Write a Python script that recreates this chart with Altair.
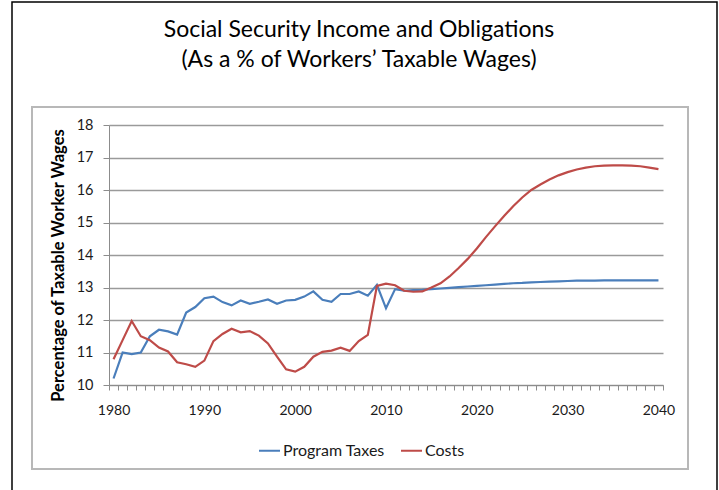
import altair as alt
import pandas as pd

years = list(range(1980, 2041))

program_taxes = [
    10.20, 11.00, 10.95, 11.00, 11.50, 11.70, 11.65, 11.55, 12.23, 12.40,
    12.67, 12.72, 12.55, 12.45, 12.60, 12.50, 12.56, 12.63, 12.50, 12.60,
    12.62, 12.72, 12.88, 12.62, 12.56, 12.80, 12.80, 12.88, 12.75, 13.08,
    12.36, 12.95, 12.90, 12.92, 12.93, 12.95, 12.97, 12.99, 13.01, 13.03,
    13.05, 13.07, 13.09, 13.11, 13.13, 13.14, 13.16, 13.17, 13.18, 13.19,
    13.20, 13.21, 13.21, 13.21, 13.22, 13.22, 13.22, 13.22, 13.22, 13.22,
    13.22,
]

costs = [
    10.79, 11.38, 11.97, 11.50, 11.38, 11.15, 11.03, 10.70, 10.64, 10.56,
    10.75, 11.35, 11.57, 11.73, 11.62, 11.66, 11.52, 11.28, 10.87, 10.48,
    10.41, 10.56, 10.87, 11.02, 11.06, 11.15, 11.05, 11.35, 11.54, 13.05,
    13.12, 13.07, 12.90, 12.87, 12.88, 13.00, 13.13, 13.34, 13.60, 13.88,
    14.20, 14.55, 14.88, 15.20, 15.50, 15.77, 16.00, 16.17, 16.32, 16.45,
    16.55, 16.63, 16.69, 16.73, 16.75, 16.76, 16.76, 16.75, 16.73, 16.69,
    16.64,
]

series_names = ["Program Taxes", "Costs"]
series_colors = ["#4a7ebb", "#be4b48"]

title_lines = ["Social Security Income and Obligations", "(As a % of Workers\u2019 Taxable Wages)"]
y_title = "Percentage of Taxable Worker Wages"

df = pd.DataFrame({
    "Year": years * 2,
    "Value": program_taxes + costs,
    "Series": [series_names[0]] * len(years) + [series_names[1]] * len(years),
})

FONT = "Lato"

# x tick positions at category boundaries (Excel-style category axis)
tick_vals = [y - 0.5 for y in range(1980, 2042)]

lines = alt.Chart(df).mark_line(strokeWidth=2.2).encode(
    x=alt.X(
        "Year:Q",
        scale=alt.Scale(domain=[1979.5, 2040.5], nice=False, zero=False),
        axis=alt.Axis(
            values=tick_vals,
            labelExpr="(datum.value + 0.5) % 10 == 0 ? toString(datum.value + 0.5) : ''",
            labelOffset=4.5,
            labelOverlap=False,
            labelFlush=False,
            grid=False,
            title=None,
            tickSize=5,
            tickColor="#8c8c8c",
            domainColor="#8c8c8c",
            labelPadding=13,
            labelFontSize=14,
            labelFont=FONT,
            labelColor="#1a1a1a",
        ),
    ),
    y=alt.Y(
        "Value:Q",
        scale=alt.Scale(domain=[10, 18], nice=False, zero=False),
        axis=alt.Axis(
            values=list(range(10, 19)),
            grid=True,
            gridColor="#9a9a9a",
            gridWidth=1.4,
            tickSize=6,
            tickColor="#8c8c8c",
            domainColor="#8c8c8c",
            labelPadding=10,
            labelFontSize=14.5,
            labelFont=FONT,
            labelColor="#1a1a1a",
            title=y_title,
            titleFont=FONT,
            titleFontSize=16.5,
            titleFontWeight="bold",
            titleColor="#000000",
            titleX=-51,
            titleY=140,
            titleAngle=270,
            titleAlign="center",
            titleBaseline="middle",
        ),
    ),
    color=alt.Color(
        "Series:N",
        scale=alt.Scale(domain=series_names, range=series_colors),
        sort=series_names,
        legend=alt.Legend(
            title=None,
            orient="none",
            legendX=149,
            legendY=314,
            direction="horizontal",
            symbolType="stroke",
            symbolSize=441,
            symbolStrokeWidth=2,
            labelFont=FONT,
            labelFontSize=16,
            labelColor="#1a1a1a",
            labelOffset=2,
            columnPadding=12,
        ),
    ),
)

frame_df = pd.DataFrame({"k": [0]})
outer = alt.Chart(frame_df).mark_rect(fill=None, stroke="#000000", strokeWidth=1.5).encode(
    x=alt.value(-97), x2=alt.value(608), y=alt.value(-123), y2=alt.value(372)
)
inner = alt.Chart(frame_df).mark_rect(fill=None, stroke="#b8b8b8", strokeWidth=2).encode(
    x=alt.value(-77), x2=alt.value(579), y=alt.value(-18), y2=alt.value(344)
)

chart = alt.layer(outer, inner, lines).properties(
    width=554,
    height=260,
    padding={"left": 109, "top": 125, "right": 56, "bottom": 105},
    autosize=alt.AutoSizeParams(type="none"),
    background="white",
    title=alt.Title(
        text=title_lines,
        font=FONT,
        fontSize=23,
        fontWeight="normal",
        color="#000000",
        lineHeight=30,
        anchor="middle",
        dx=-27,
        offset=-71,
    ),
).configure_view(stroke=None)

chart.save("out.html", embed_options={"renderer": "svg", "actions": False})
